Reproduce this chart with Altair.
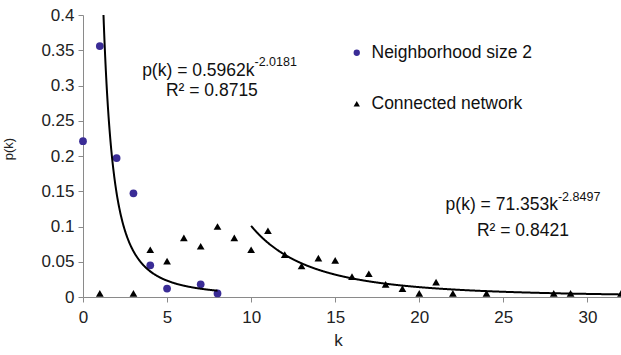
import altair as alt
import pandas as pd

nbhd_k = [0, 1, 2, 3, 4, 5, 7, 8]
nbhd_p = [0.221, 0.356, 0.197, 0.147, 0.045, 0.012, 0.018, 0.005]
conn_k = [1, 3, 4, 5, 6, 7, 8, 9, 10, 11, 12, 13, 14, 15, 16, 17, 18, 19, 20,
          21, 22, 24, 28, 29, 32]
conn_p = [0.005, 0.005, 0.067, 0.051, 0.084, 0.072, 0.100, 0.084, 0.067, 0.094,
          0.060, 0.044, 0.055, 0.052, 0.029, 0.033, 0.018, 0.012, 0.005, 0.021,
          0.005, 0.005, 0.005, 0.005, 0.005]
series_names = ["Neighborhood size 2", "Connected network"]
series_colors = ["#3a2c96", "#000000"]
series_shapes = ["circle", "triangle-up"]

# Axis tick values
x_ticks = [0, 5, 10, 15, 20, 25, 30]
y_ticks = [0, 0.05, 0.1, 0.15, 0.2, 0.25, 0.3, 0.35, 0.4]

# Power-law trend lines as printed on the chart: p(k) = a * k^b
fit_a = [0.5962, 71.353]
fit_b = [-2.0181, -2.8497]
fit_range = [[1.0, 8.0], [10.0, 32.0]]

# Equation labels
eq_main = ["p(k) = 0.5962k", "p(k) = 71.353k"]
eq_sup = ["-2.0181", "-2.8497"]
eq_r2 = ["R\u00b2 = 0.8715", "R\u00b2 = 0.8421"]
eq_k = [10.2, 28.25]
eq_main_p = [0.314, 0.123]
eq_sup_p = [0.328, 0.136]
eq_r2_k = [10.4, 28.9]
eq_r2_p = [0.285, 0.087]

FONT = "Liberation Sans"

pts = pd.DataFrame({
    "k": nbhd_k + conn_k,
    "p": nbhd_p + conn_p,
    "series": [series_names[0]] * len(nbhd_k) + [series_names[1]] * len(conn_k),
})

x_scale = alt.Scale(domain=[0, 32], nice=False, zero=False)
y_scale = alt.Scale(domain=[0, 0.4], nice=False)

x_axis = alt.Axis(values=x_ticks, grid=False, title="k",
                  titleX=255, titleY=48, titleBaseline="alphabetic",
                  titleFontWeight="normal", titleFontSize=17, labelPadding=7,
                  labelFlush=False, labelOverlap=False)
y_axis = alt.Axis(values=y_ticks, format="~g", grid=False, title="p(k)",
                  titleAngle=-90, titleX=-71, titleY=133.5, titleAlign="center",
                  titleBaseline="alphabetic", titleFontWeight="normal",
                  titleFontSize=13,
                  labelPadding=4, labelFlush=False, labelOverlap=False)


def X(field):
    return alt.X(f"{field}:Q", scale=x_scale, axis=x_axis)


def Y(field):
    return alt.Y(f"{field}:Q", scale=y_scale, axis=y_axis)


legend = alt.Legend(title=None, orient="none", legendX=265, legendY=29,
                    rowPadding=32, symbolSize=40, labelOffset=6)

points = alt.Chart(pts).mark_point(filled=True, opacity=1, size=60).encode(
    x=X("k"),
    y=Y("p"),
    color=alt.Color("series:N",
                    scale=alt.Scale(domain=series_names, range=series_colors),
                    legend=legend),
    shape=alt.Shape("series:N",
                    scale=alt.Scale(domain=series_names, range=series_shapes),
                    legend=legend),
)

fits = []
for a, b, (k0, k1) in zip(fit_a, fit_b, fit_range):
    fits.append(
        alt.Chart(alt.sequence(k0, k1 + 0.001, 0.02, as_="k"))
        .transform_calculate(p=f"{a} * pow(datum.k, {b})")
        .mark_line(color="black", strokeWidth=2, clip=True)
        .encode(x=X("k"), y=Y("p"))
    )

eq = pd.DataFrame({"k": eq_k, "p": eq_main_p, "t": eq_main,
                   "ps": eq_sup_p, "s": eq_sup,
                   "rk": eq_r2_k, "rp": eq_r2_p, "r": eq_r2})

main_txt = alt.Chart(eq).mark_text(align="right", baseline="alphabetic",
                                   fontSize=17.5, font=FONT, color="#111").encode(
    x=X("k"), y=Y("p"), text="t:N")
sup_txt = alt.Chart(eq).mark_text(align="left", baseline="alphabetic",
                                  fontSize=12.5, font=FONT, color="#111").encode(
    x=X("k"), y=Y("ps"), text="s:N")
r2_txt = alt.Chart(eq).mark_text(align="right", baseline="alphabetic",
                                 fontSize=17.5, font=FONT, color="#111").encode(
    x=X("rk"), y=Y("rp"), text="r:N")

chart = alt.layer(points, *fits, main_txt, sup_txt, r2_txt).properties(
    width=538, height=282,
    background="white",
    autosize=alt.AutoSizeParams(type="none"),
    padding={"left": 83, "top": 15, "right": 0, "bottom": 58},
).configure_view(stroke=None).configure_axis(
    domainColor="#8a8a8a", tickColor="#8a8a8a", tickSize=5,
    labelFont=FONT, labelFontSize=17, labelColor="#222",
    titleFont=FONT, titleColor="#222",
).configure_legend(
    labelFont=FONT, labelFontSize=17.5, labelColor="#111", labelLimit=300,
)

chart.save("out.html", embed_options={"renderer": "svg", "actions": False})
